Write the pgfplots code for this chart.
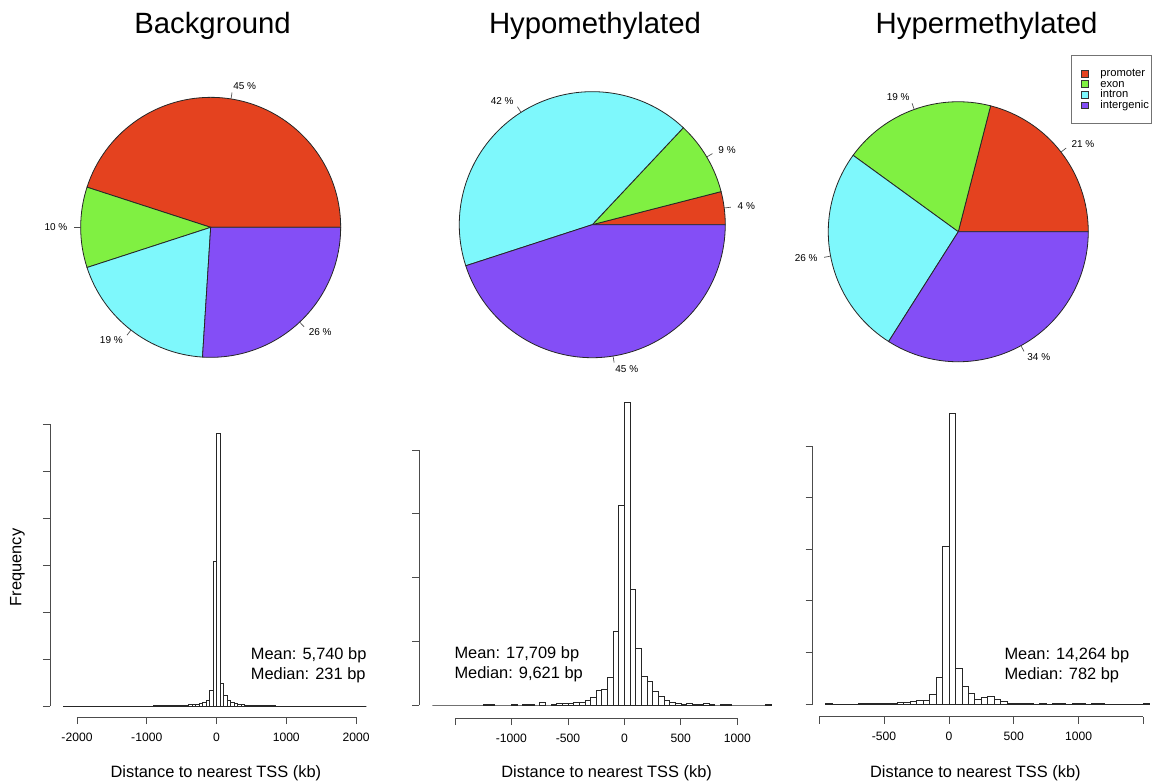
\documentclass[border=0pt]{standalone}
\usepackage{pgfplots}
\usepackage{pgfplotstable}
\pgfplotsset{compat=1.18}
\usepackage{fontspec}
\setmainfont{Liberation Sans}

\definecolor{cProm}{HTML}{E4421F}
\definecolor{cExon}{HTML}{80F042}
\definecolor{cIntr}{HTML}{7EF8FC}
\definecolor{cInter}{HTML}{844EF6}

\newcommand\pielabelfont{\fontsize{7.5}{8}\selectfont}
\newcommand\meanfont{\fontsize{12.3}{14}\selectfont}
\newcommand\labfont{\fontsize{12.3}{14}\selectfont}
\newcommand\titlefont{\fontsize{22}{26}\selectfont}

% pie slice: #1 percentage, #2 colour, #3 radius
\gdef\pieacc{0}
\newcommand\pieslice[3]{%
  \pgfmathsetmacro\pa{\pieacc}%
  \pgfmathsetmacro\pb{\pieacc+3.6*#1}%
  \pgfmathsetmacro\pmid{\pieacc+1.8*#1}%
  \xdef\pieacc{\pb}%
  \pgfmathsetmacro\pcos{cos(\pmid)}%
  \ifdim\pcos pt<0pt\def\pan{east}\else\def\pan{west}\fi
  \edef\tmp{%
    \noexpand\filldraw[fill=#2,draw=black!85,line width=0.6pt] (axis cs:0,0) -- ++(\pa:#3) arc[start angle=\pa,end angle=\pb,radius=#3] -- cycle;%
    \noexpand\draw[black!70,line width=0.5pt] ([shift={(\pmid:#3)}]axis cs:0,0) -- ([shift={(\pmid:1.05*#3)}]axis cs:0,0);%
    \noexpand\node[anchor=\pan,inner sep=0pt,font=\noexpand\pielabelfont] at ([shift={(\pmid:1.1*#3)}]axis cs:0,0) {#1 \noexpand\%};%
  }\tmp}

\tikzset{axln/.style={black!70, line width=0.6pt}}
\pgfplotsset{
  histaxis/.style={
    scale only axis, anchor=south west,
    axis lines*=left, axis line style={draw=none},
    tick align=outside, major tick length=5.25pt,
    tick style={black!70, line width=0.6pt},
    yticklabels={}, clip=false,
    xticklabel style={font=\fontsize{9.1}{10}\selectfont, yshift=-3pt},
  },
  pieaxis/.style={scale only axis, anchor=center, hide axis, clip=false,
    xmin=-1,xmax=1,ymin=-1,ymax=1},
  histbar/.style={ybar interval, fill=white, draw=black!85, line width=0.5pt},
}

% Histograms: left bin edge (kb), bar height (in y-tick units); last row closes the interval
\pgfplotstableread{
x y
-2200 0
-900 0.005
-850 0.005
-800 0.007
-750 0.008
-700 0.01
-650 0.012
-600 0.014
-550 0.016
-500 0.02
-450 0.022
-400 0.026
-350 0.03
-300 0.04
-250 0.05
-200 0.07
-150 0.13
-100 0.34
-50 3.085
0 5.81
50 0.49
100 0.23
150 0.13
200 0.085
250 0.057
300 0.04
350 0.03
400 0.025
450 0.02
500 0.016
550 0.012
600 0.01
650 0.008
700 0.006
750 0.005
800 0.004
850 0
2150 0
}\histBG

\pgfplotstableread{
x y
-1700 0
-1250 0.01
-1200 0.01
-1150 0
-1000 0.008
-950 0
-900 0.01
-850 0.01
-800 0
-750 0.035
-700 0
-650 0.01
-600 0.02
-550 0.027
-500 0.03
-450 0.047
-400 0.047
-350 0.078
-300 0.125
-250 0.225
-200 0.25
-150 0.44
-100 1.16
-50 3.124
0 4.746
50 1.82
100 0.89
150 0.455
200 0.366
250 0.22
300 0.14
350 0.078
400 0.036
450 0.03
500 0.016
550 0.025
600 0.01
650 0.015
700 0.02
750 0.005
800 0
850 0.01
900 0.01
950 0
1250 0.005
1300 0
}\histHypo

\pgfplotstableread{
x y
-950 0.005
-900 0
-700 0.02
-650 0.015
-600 0.01
-550 0.02
-500 0.02
-450 0.01
-400 0.03
-350 0.035
-300 0.045
-250 0.065
-200 0.078
-150 0.19
-100 0.51
-50 3.05
0 5.63
50 0.69
100 0.335
150 0.21
200 0.09
250 0.12
300 0.14
350 0.097
400 0.045
450 0.01
500 0.02
550 0.015
600 0.005
650 0
700 0.005
750 0
800 0.005
850 0.005
900 0
950 0.005
1000 0.005
1050 0
1100 0.005
1150 0.005
1200 0
1500 0.005
1550 0
}\histHyper

\begin{document}
\begin{tikzpicture}
\useasboundingbox[fill=white] (0pt,0pt) rectangle (864.75pt,-587.25pt);

% ---------- titles ----------
\node[anchor=base,font=\titlefont] at (159.4pt,-24.75pt) {Background};
\node[anchor=base,font=\titlefont] at (446.25pt,-24.75pt) {Hypomethylated};
\node[anchor=base,font=\titlefont] at (739.9pt,-24.75pt) {Hypermethylated};

% ---------- pies ----------
\begin{axis}[pieaxis, at={(158.0pt,-170.5pt)}, width=195pt, height=195pt]
\gdef\pieacc{0}
\pieslice{45}{cProm}{97.5pt}
\pieslice{10}{cExon}{97.5pt}
\pieslice{19}{cIntr}{97.5pt}
\pieslice{26}{cInter}{97.5pt}
\end{axis}

\begin{axis}[pieaxis, at={(444.2pt,-168.5pt)}, width=199.5pt, height=199.5pt]
\gdef\pieacc{0}
\pieslice{4}{cProm}{99.75pt}
\pieslice{9}{cExon}{99.75pt}
\pieslice{42}{cIntr}{99.75pt}
\pieslice{45}{cInter}{99.75pt}
\end{axis}

\begin{axis}[pieaxis, at={(718.7pt,-173.8pt)}, width=195pt, height=195pt,
  legend style={at={(0.9335,1.1796)}, anchor=north west, draw=none, fill=none,
    font=\fontsize{8.4}{9}\selectfont, inner xsep=7pt, inner ysep=10.3pt,
    row sep=1.35pt, column sep=9pt,
    nodes={inner sep=0pt, text height=5.6pt, text depth=1pt}},
  legend cell align=left,
  legend image code/.code={\draw[#1] (0pt,-2.6pt) rectangle (5.4pt,2.6pt);}]
\gdef\pieacc{0}
\pieslice{21}{cProm}{97.5pt}
\pieslice{19}{cExon}{97.5pt}
\pieslice{26}{cIntr}{97.5pt}
\pieslice{34}{cInter}{97.5pt}
\addlegendimage{fill=cProm, draw=black!80, line width=0.4pt}
\addlegendentry{promoter}
\addlegendimage{fill=cExon, draw=black!80, line width=0.4pt}
\addlegendentry{exon}
\addlegendimage{fill=cIntr, draw=black!80, line width=0.4pt}
\addlegendentry{intron}
\addlegendimage{fill=cInter, draw=black!80, line width=0.4pt}
\addlegendentry{intergenic}
\end{axis}
% legend frame
\draw[black!55, line width=0.5pt] (803.25pt,-41.25pt) rectangle (863.8pt,-92.5pt);

% ---------- histograms ----------
\begin{axis}[histaxis, at={(37.5pt,-537.75pt)}, width=245.2pt, height=223.3pt,
  xmin=-2387, xmax=2300, ymin=-0.234, ymax=6.1,
  xtick={-2000,-1000,0,1000,2000}, xticklabels={-2000,-1000,0,1000,2000},
  ytick={0,1,2,3,4,5,6}]
\addplot[histbar] table[x=x,y=y] {\histBG};
\draw[axln] (axis cs:-2000,-0.234) -- (axis cs:2000,-0.234);
\draw[axln] (axis cs:-2387,0) -- (axis cs:-2387,6);
\end{axis}

\begin{axis}[histaxis, at={(314.25pt,-538.5pt)}, width=267.5pt, height=239.3pt,
  xmin=-1819, xmax=1340, ymin=-0.204, ymax=4.8,
  xtick={-1500,-1000,-500,0,500,1000}, xticklabels={,-1000,-500,0,500,1000},
  ytick={0,1,2,3,4}]
\addplot[histbar] table[x=x,y=y] {\histHypo};
\draw[axln] (axis cs:-1500,-0.204) -- (axis cs:1000,-0.204);
\draw[axln] (axis cs:-1819,0) -- (axis cs:-1819,4);
\end{axis}

\begin{axis}[histaxis, at={(609.5pt,-537.5pt)}, width=254.8pt, height=230.1pt,
  xmin=-1051, xmax=1570, ymin=-0.246, ymax=5.7,
  xtick={-1000,-500,0,500,1000,1500}, xticklabels={,-500,0,500,1000,},
  ytick={0,1,2,3,4,5}]
\addplot[histbar] table[x=x,y=y] {\histHyper};
\draw[axln] (axis cs:-1000,-0.246) -- (axis cs:1500,-0.246);
\draw[axln] (axis cs:-1051,0) -- (axis cs:-1051,5);
\end{axis}

% ---------- annotations ----------
\node[anchor=base west,inner sep=0pt,font=\meanfont] at (188.0pt,-494.5pt) {Mean: 5,740 bp};
\node[anchor=base west,inner sep=0pt,font=\meanfont] at (188.0pt,-509.5pt) {Median: 231 bp};
\node[anchor=base west,inner sep=0pt,font=\meanfont] at (340.7pt,-494.0pt) {Mean: 17,709 bp};
\node[anchor=base west,inner sep=0pt,font=\meanfont] at (340.7pt,-509.0pt) {Median: 9,621 bp};
\node[anchor=base west,inner sep=0pt,font=\meanfont] at (753.2pt,-494.25pt) {Mean: 14,264 bp};
\node[anchor=base west,inner sep=0pt,font=\meanfont] at (753.2pt,-509.25pt) {Median: 782 bp};

\node[rotate=90,font=\labfont] at (13.1pt,-425.6pt) {Frequency};
\node[anchor=base,font=\labfont] at (161.9pt,-582.75pt) {Distance to nearest TSS (kb)};
\node[anchor=base,font=\labfont] at (455.0pt,-582.75pt) {Distance to nearest TSS (kb)};
\node[anchor=base,font=\labfont] at (731.5pt,-582.75pt) {Distance to nearest TSS (kb)};
\end{tikzpicture}
\end{document}
